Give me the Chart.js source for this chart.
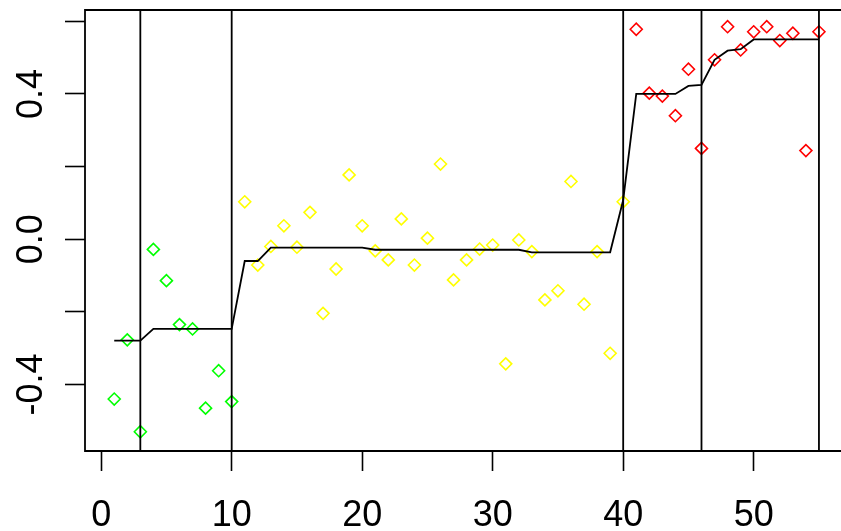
<!DOCTYPE html>
<html>
<head>
<meta charset="utf-8">
<style>
  html, body { margin: 0; padding: 0; background: #ffffff; overflow: hidden; }
  #wrap { width: 841px; height: 531px; }
</style>
<script src="https://cdn.jsdelivr.net/npm/chart.js@4/dist/chart.umd.min.js"></script>
</head>
<body>
<div id="wrap"><canvas id="c" width="841" height="531"></canvas></div>
<script>
// Observation index for each group
const idxGreen  = [1, 2, 3, 4, 5, 6, 7, 8, 9, 10];
const idxYellow = [11, 12, 13, 14, 15, 16, 17, 18, 19, 20, 21, 22, 23, 24, 25,
                   26, 27, 28, 29, 30, 31, 32, 33, 34, 35, 36, 37, 38, 39, 40];
const idxRed    = [41, 42, 43, 44, 45, 46, 47, 48, 49, 50, 51, 52, 53, 54, 55];

// Observed values per group
const obsGreen  = [-0.440, -0.277, -0.530, -0.028, -0.114, -0.235, -0.247, -0.465, -0.362, -0.447];
const obsYellow = [0.103, -0.071, -0.020, 0.037, -0.022, 0.074, -0.204, -0.082, 0.177, 0.037,
                   -0.032, -0.057, 0.056, -0.071, 0.003, 0.207, -0.112, -0.057, -0.027, -0.016,
                   -0.343, -0.002, -0.034, -0.167, -0.142, 0.159, -0.179, -0.034, -0.314, 0.103];
const obsRed    = [0.578, 0.402, 0.394, 0.340, 0.468, 0.250, 0.494, 0.585, 0.521, 0.571,
                   0.585, 0.547, 0.567, 0.244, 0.571];

// Fitted curve at observations 1..55
const fitIndex = [1, 2, 3, 4, 5, 6, 7, 8, 9, 10, 11, 12, 13, 14, 15, 16, 17, 18, 19, 20,
                  21, 22, 23, 24, 25, 26, 27, 28, 29, 30, 31, 32, 33, 34, 35, 36, 37, 38, 39, 40,
                  41, 42, 43, 44, 45, 46, 47, 48, 49, 50, 51, 52, 53, 54, 55];
const fitted = [-0.279, -0.279, -0.279,
                -0.247, -0.247, -0.247, -0.247, -0.247, -0.247, -0.247,
                -0.060, -0.060,
                -0.023, -0.023, -0.023, -0.023, -0.023, -0.023, -0.023, -0.023,
                -0.029, -0.029, -0.029, -0.029, -0.029, -0.029, -0.029, -0.029, -0.029, -0.029, -0.029, -0.029,
                -0.036, -0.036, -0.036, -0.036, -0.036, -0.036, -0.036,
                0.108,
                0.400, 0.400, 0.400, 0.400,
                0.422, 0.425, 0.494, 0.519, 0.523,
                0.550, 0.550, 0.550, 0.550, 0.550, 0.550];

// Segment boundaries (vertical rules)
const breakpoints = [3, 10, 40, 46, 55];

// Axis ticks
const xTicks = [0, 10, 20, 30, 40, 50];
const yTicks = [-0.4, -0.2, 0.0, 0.2, 0.4, 0.6];
const yTickLabels = ['-0.4', '', '0.0', '', '0.4', ''];

const FONT = 'Liberation Sans, Arial, sans-serif';

function pairs(xs, ys) { return xs.map((x, i) => ({ x: x, y: ys[i] })); }

function pointSet(xs, ys, color) {
  return {
    type: 'scatter',
    data: pairs(xs, ys),
    pointStyle: 'rectRot',
    pointRadius: 6,
    pointBorderWidth: 1.6,
    borderColor: color,
    backgroundColor: 'rgba(0,0,0,0)',
    order: 2
  };
}

// Fixed axis sizes, no extra label padding
function fixSize(prop, size) {
  return s => {
    s[prop] = size;
    s.paddingTop = 0; s.paddingBottom = 0; s.paddingLeft = 0; s.paddingRight = 0;
  };
}

// Plot frame (left, top, bottom) and vertical rules at the breakpoints
const framePlugin = {
  id: 'frame',
  afterDatasetsDraw(chart) {
    const { ctx, chartArea: a, scales } = chart;
    ctx.save();
    ctx.strokeStyle = '#000';
    ctx.lineWidth = 1.8;
    ctx.beginPath();
    breakpoints.forEach(b => {
      const px = scales.x.getPixelForValue(b);
      ctx.moveTo(px, a.top);
      ctx.lineTo(px, a.bottom);
    });
    ctx.stroke();
    ctx.beginPath();
    ctx.moveTo(a.right + 5, a.top);
    ctx.lineTo(a.left, a.top);
    ctx.lineTo(a.left, a.bottom);
    ctx.lineTo(a.right + 5, a.bottom);
    ctx.stroke();
    ctx.restore();
  }
};

new Chart(document.getElementById('c'), {
  type: 'scatter',
  data: {
    datasets: [
      {
        type: 'line',
        data: pairs(fitIndex, fitted),
        borderColor: '#000',
        borderWidth: 1.8,
        pointRadius: 0,
        tension: 0,
        fill: false,
        order: 1
      },
      pointSet(idxGreen, obsGreen, '#00ff00'),
      pointSet(idxYellow, obsYellow, '#ffff00'),
      pointSet(idxRed, obsRed, '#ff0000')
    ]
  },
  options: {
    responsive: false,
    animation: false,
    devicePixelRatio: 1,
    layout: { autoPadding: false, padding: { top: 10, left: 0, right: 0, bottom: 0 } },
    plugins: { legend: { display: false }, tooltip: { enabled: false } },
    scales: {
      x: {
        type: 'linear',
        min: -1.24,
        max: 56.69,
        afterBuildTicks: s => { s.ticks = xTicks.map(v => ({ value: v })); },
        afterFit: fixSize('height', 80),
        grid: { display: true, drawOnChartArea: false, drawTicks: true, tickLength: 20, tickColor: '#000', tickWidth: 1.6 },
        border: { display: false },
        ticks: {
          autoSkip: false, maxRotation: 0, minRotation: 0,
          padding: 23, color: '#000',
          font: { family: FONT, size: 36 },
          callback: v => String(v)
        }
      },
      y: {
        type: 'linear',
        min: -0.583,
        max: 0.631,
        afterBuildTicks: s => { s.ticks = yTicks.map(v => ({ value: v })); },
        afterFit: fixSize('width', 85),
        grid: { display: true, drawOnChartArea: false, drawTicks: true, tickLength: 20, tickColor: '#000', tickWidth: 1.6 },
        border: { display: false },
        ticks: {
          autoSkip: false, minRotation: 90, maxRotation: 90,
          crossAlign: 'center',
          padding: 2, color: '#000',
          font: { family: FONT, size: 36 },
          callback: (v, i) => yTickLabels[i]
        }
      }
    }
  },
  plugins: [framePlugin]
});
</script>
</body>
</html>
